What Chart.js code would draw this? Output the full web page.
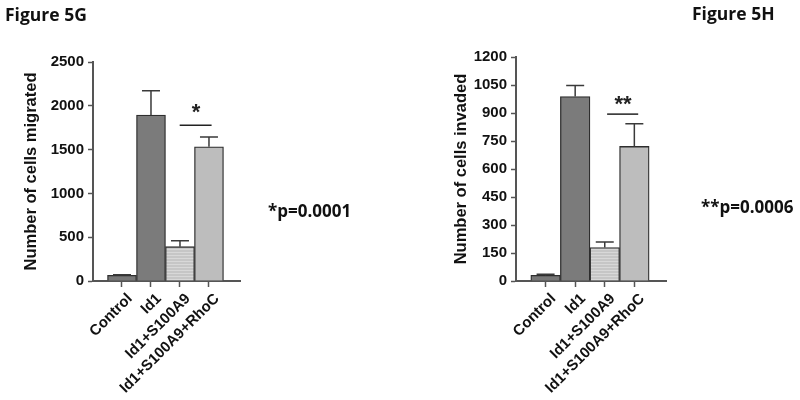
<!DOCTYPE html>
<html>
<head>
<meta charset="utf-8">
<script src="https://cdn.jsdelivr.net/npm/chart.js@4.4.0/dist/chart.umd.min.js"></script>
<style>
  body { margin: 0; background: #fff; }
  #wrap { position: relative; width: 800px; height: 400px; overflow: hidden; }
  .box { position: absolute; top: 0; width: 400px; height: 400px; }
  .note { position: absolute; font-family: "Open Sans", sans-serif; font-weight: 700; color: #111; white-space: nowrap; }
</style>
</head>
<body>
<div id="wrap">
  <div class="box" style="left:0"><canvas id="chartG"></canvas></div>
  <div class="box" style="left:400px"><canvas id="chartH"></canvas></div>
  <div class="note" style="left:5px; top:2px; font-size:17.5px;">Figure 5G</div>
  <div class="note" style="left:692px; top:1px; font-size:17.5px;">Figure 5H</div>
  <div class="note" style="left:268px; top:199px; font-size:17px;">*p=0.0001</div>
  <div class="note" style="left:701px; top:195px; font-size:17px;">**p=0.0006</div>
</div>
<script>
// groups on the x axis
var categories = ['Control', 'Id1', 'Id1+S100A9', 'Id1+S100A9+RhoC'];

// Figure 5G - migration
var migrated = [65, 1895, 392, 1533];
var migratedErr = [7, 277, 68, 111];
var migratedTicks = [0, 500, 1000, 1500, 2000, 2500];
var migratedSig = { x: [1.99, 3.09], y: 1777, starX: 2.55, starY: 1915, label: '*' };

// Figure 5H - invasion
var invaded = [30, 988, 179, 721];
var invadedErr = [6, 59, 30, 122];
var invadedTicks = [0, 150, 300, 450, 600, 750, 900, 1050, 1200];
var invadedSig = { x: [2.08, 3.13], y: 894, starX: 2.62, starY: 945, label: '**' };

var barColors = ['#777777', '#7b7b7b', '#cacaca', '#bdbdbd'];

function stripes(ctx, base, line) {
    var c = document.createElement('canvas');
    c.width = 4; c.height = 3;
    var x = c.getContext('2d');
    x.fillStyle = base; x.fillRect(0, 0, 4, 3);
    x.fillStyle = line; x.fillRect(0, 0, 4, 1);
    return ctx.createPattern(c, 'repeat');
}

// error bars + significance stars
var extrasPlugin = {
    id: 'extras',
    afterDatasetsDraw: function(chart, args, opts) {
        var ctx = chart.ctx;
        var xs = chart.scales.x, ys = chart.scales.y;
        ctx.save();
        ctx.strokeStyle = '#3a3a3a';
        ctx.lineWidth = 1.5;
        opts.values.forEach(function(v, i) {
            var x = xs.getPixelForValue(i);
            var y0 = ys.getPixelForValue(v);
            var y1 = ys.getPixelForValue(v + opts.errors[i]);
            ctx.beginPath();
            ctx.moveTo(x, y0); ctx.lineTo(x, y1);
            ctx.moveTo(x - 9, y1); ctx.lineTo(x + 9, y1);
            ctx.stroke();
        });
        ctx.fillStyle = '#222';
        ctx.font = 'bold 22px "Liberation Sans", Arial, sans-serif';
        ctx.textAlign = 'center';
        ctx.textBaseline = 'middle';
        ctx.fillText(opts.sig.label, xs.getPixelForValue(opts.sig.starX), ys.getPixelForValue(opts.sig.starY));
        ctx.restore();
    }
};

function makeChart(id, values, errors, ticks, yMax, sig, title, pad, yWidth) {
    var ctx = document.getElementById(id).getContext('2d');
    var colors = barColors.slice();
    colors[2] = stripes(ctx, '#c6c6c6', '#d8d8d8');

    return new Chart(ctx, {
        type: 'bar',
        data: {
            datasets: [{
                type: 'bar',
                data: values.map(function(v, i) { return { x: i, y: v }; }),
                backgroundColor: colors,
                borderColor: '#2e2e2e',
                borderWidth: 1.3,
                barPercentage: 1,
                categoryPercentage: 1,
            }, {
                type: 'line',
                data: sig.x.map(function(x) { return { x: x, y: sig.y }; }),
                borderColor: '#222',
                borderWidth: 1.5,
                pointRadius: 0,
                fill: false,
            }],
        },
        options: {
            responsive: true,
            maintainAspectRatio: false,
            animation: false,
            layout: { padding: pad },
            plugins: {
                legend: { display: false },
                tooltip: { enabled: false },
                extras: { values: values, errors: errors, sig: sig },
            },
            scales: {
                x: {
                    type: 'linear',
                    offset: false,
                    min: -1,
                    max: 4.07,
                    afterBuildTicks: function(axis) {
                        axis.ticks = categories.map(function(c, i) { return { value: i }; });
                    },
                    afterFit: function(axis) { axis.height = 400 - 281 - pad.bottom; },
                    grid: { offset: false, drawOnChartArea: false, drawTicks: true, tickLength: 6, tickColor: '#555', tickWidth: 1.5 },
                    border: { color: '#555', width: 2 },
                    ticks: {
                        autoSkip: false,
                        maxRotation: 45,
                        minRotation: 45,
                        padding: 3,
                        labelOffset: 8,
                        color: '#111',
                        font: { size: 15, weight: 'bold', family: '"Liberation Sans", Arial, sans-serif' },
                        callback: function(v) { return categories[v]; },
                    },
                },
                y: {
                    min: 0,
                    max: yMax,
                    afterBuildTicks: function(axis) {
                        axis.ticks = ticks.map(function(t) { return { value: t }; });
                    },
                    afterFit: function(axis) { axis.width = yWidth; },
                    grid: { drawOnChartArea: false, drawTicks: true, tickLength: 5, tickColor: '#555', tickWidth: 1.5 },
                    border: { color: '#555', width: 2 },
                    ticks: {
                        padding: 4,
                        color: '#111',
                        font: { size: 15, weight: 'bold', family: '"Liberation Sans", Arial, sans-serif' },
                        callback: function(v) { return String(v); },
                    },
                    title: {
                        display: true,
                        text: title,
                        color: '#111',
                        padding: { top: 22 },
                        font: { size: 16.5, weight: 'bold', family: '"Liberation Sans", Arial, sans-serif' },
                    },
                },
            },
        },
        plugins: [extrasPlugin],
    });
}

makeChart('chartG', migrated, migratedErr, migratedTicks, 2500, migratedSig,
    'Number of cells migrated', { top: 62, left: 0, right: 160, bottom: 0 }, 93);
makeChart('chartH', invaded, invadedErr, invadedTicks, 1200, invadedSig,
    'Number of cells invaded', { top: 57, left: 30, right: 134, bottom: 0 }, 86);
</script>
</body>
</html>
